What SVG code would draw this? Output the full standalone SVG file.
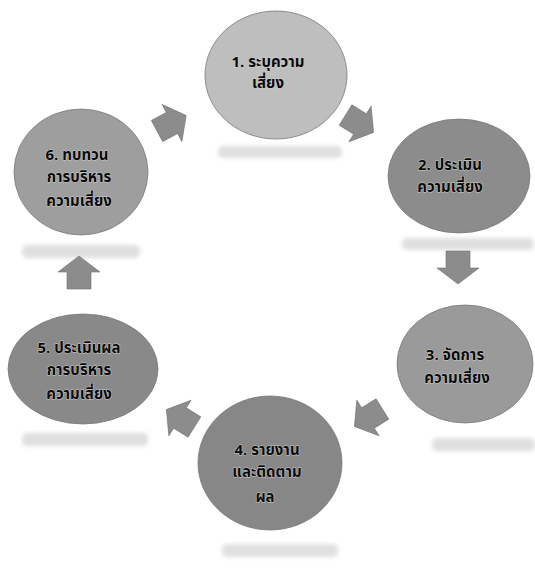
<svg xmlns="http://www.w3.org/2000/svg" width="535" height="568" viewBox="0 0 535 568">
<defs>
<style>
.node ellipse{stroke:#7a7a7a;stroke-width:0.8}
.lbl{font-family:"Noto Sans Thai","Noto Sans","DejaVu Sans",sans-serif;font-weight:bold;font-size:15px;fill:#0a0a0a;text-anchor:middle;stroke:#cfcfcf;stroke-width:1;paint-order:stroke;stroke-linejoin:round}
.refl{fill:#d2d2d2;opacity:0.7;filter:url(#blur)}
.arr{fill:#8c8c8c;stroke:#6f6f6f;stroke-width:0.6}
</style>
<filter id="blur" x="-20%" y="-100%" width="140%" height="300%"><feGaussianBlur stdDeviation="2.2"/></filter>
<path id="ar" d="M-17,-12 L0,-12 L0,-21 L16,0 L0,21 L0,12 L-17,12 Z"/>
</defs>
<rect width="535" height="568" fill="#ffffff"/>
<g id="reflections">
<rect class="refl" x="218" y="146" width="124" height="12" rx="5"/>
<rect class="refl" x="402" y="238" width="132" height="12" rx="5"/>
<rect class="refl" x="432" y="438" width="103" height="13" rx="5"/>
<rect class="refl" x="222" y="544" width="116" height="13" rx="5"/>
<rect class="refl" x="22" y="433" width="126" height="13" rx="5"/>
<rect class="refl" x="22" y="245" width="118" height="13" rx="5"/>
</g>
<g id="connectors">
<use href="#ar" class="arr" transform="translate(172,123) rotate(-28)"/>
<use href="#ar" class="arr" transform="translate(360,124) rotate(32)"/>
<use href="#ar" class="arr" transform="translate(458,268) rotate(90)"/>
<use href="#ar" class="arr" transform="translate(368,418) rotate(148)"/>
<use href="#ar" class="arr" transform="translate(180,418) rotate(212)"/>
<use href="#ar" class="arr" transform="translate(79,272) rotate(270)"/>
</g>
<g id="node1" class="node">
<ellipse cx="276" cy="75" rx="71" ry="64" fill="#bebebe"/>
<text class="lbl" x="268" y="67">1. ระบุความ</text>
<text class="lbl" x="268" y="88">เสี่ยง</text>
</g>
<g id="node2" class="node">
<ellipse cx="459" cy="176" rx="71" ry="57" fill="#8c8c8c"/>
<text class="lbl" x="450" y="170">2. ประเมิน</text>
<text class="lbl" x="450" y="192">ความเสี่ยง</text>
</g>
<g id="node3" class="node">
<ellipse cx="465" cy="364" rx="68" ry="59" fill="#9a9a9a"/>
<text class="lbl" x="455" y="360">3. จัดการ</text>
<text class="lbl" x="457" y="383">ความเสี่ยง</text>
</g>
<g id="node4" class="node">
<ellipse cx="270" cy="463" rx="72" ry="67" fill="#878787"/>
<text class="lbl" x="267" y="455">4. รายงาน</text>
<text class="lbl" x="267" y="477">และติดตาม</text>
<text class="lbl" x="265" y="502">ผล</text>
</g>
<g id="node5" class="node">
<ellipse cx="83" cy="369" rx="75" ry="55" fill="#898989"/>
<text class="lbl" x="79" y="353">5. ประเมินผล</text>
<text class="lbl" x="79" y="375">การบริหาร</text>
<text class="lbl" x="79" y="399">ความเสี่ยง</text>
</g>
<g id="node6" class="node">
<ellipse cx="81" cy="172" rx="67" ry="63" fill="#9e9e9e"/>
<text class="lbl" x="77" y="160">6. ทบทวน</text>
<text class="lbl" x="79" y="182">การบริหาร</text>
<text class="lbl" x="79" y="206">ความเสี่ยง</text>
</g>
</svg>
